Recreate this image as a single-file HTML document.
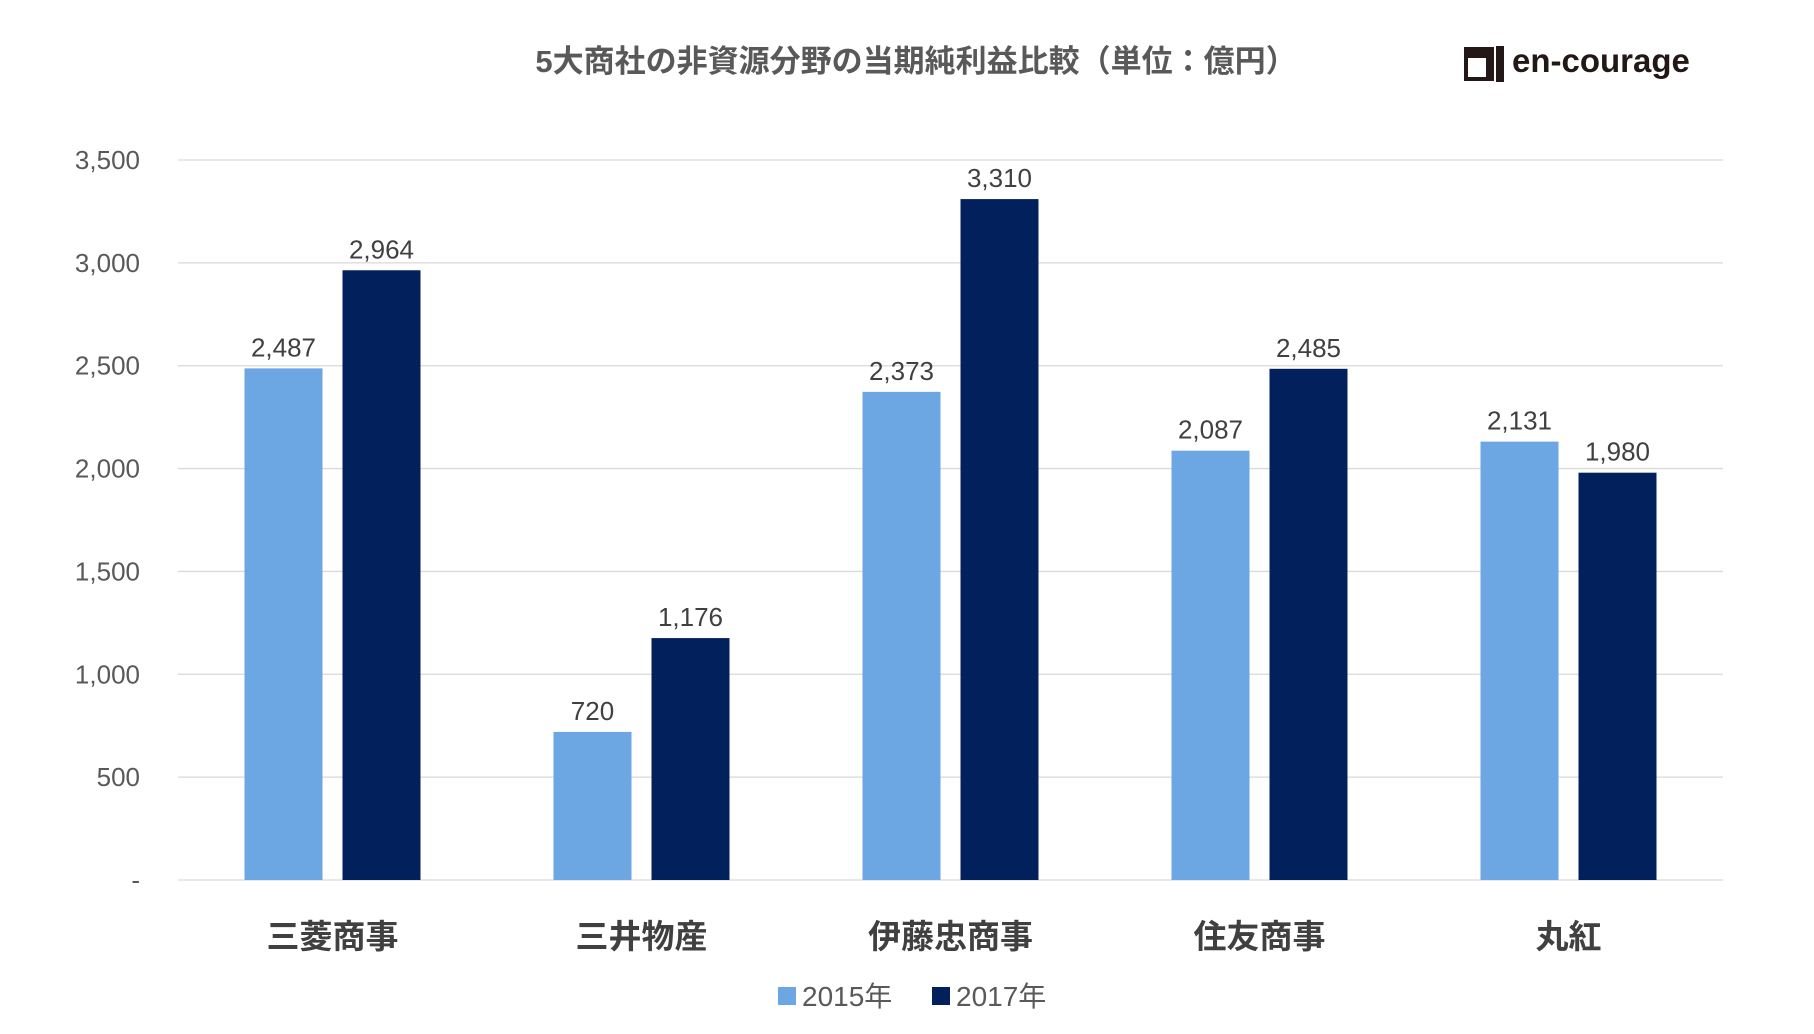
<!DOCTYPE html>
<html><head><meta charset="utf-8">
<style>
body{margin:0;background:#fff;width:1814px;height:1029px;overflow:hidden;font-family:"Liberation Sans","Noto Sans CJK JP",sans-serif;}
</style></head>
<body>
<svg id="chart" width="1814" height="1029" xmlns="http://www.w3.org/2000/svg" font-family="Liberation Sans, Noto Sans CJK JP, sans-serif">
<text x="916" y="72" text-anchor="middle" font-size="31" font-weight="bold" fill="#595959">5大商社の非資源分野の当期純利益比較（単位：億円）</text>
<g>
<rect x="1464" y="47" width="30" height="34" fill="#231815"/>
<rect x="1468" y="58" width="18" height="19" fill="#fff"/>
<rect x="1496" y="46" width="8" height="36" fill="#231815"/>
<text x="1512" y="72" font-size="33" font-weight="bold" fill="#231815">en-courage</text>
</g>
<g id="grid"></g><g id="bars"></g><g id="labels"></g>
<g>
<rect x="778" y="987" width="18" height="18" fill="#6CA6E3"/>
<text x="802" y="1006" font-size="28" fill="#595959">2015年</text>
<rect x="932" y="987" width="18" height="18" fill="#02215C"/>
<text x="956" y="1006" font-size="28" fill="#595959">2017年</text>
</g>
</svg>
<script>
const categories=["三菱商事","三井物産","伊藤忠商事","住友商事","丸紅"];
const values2015=[2487,720,2373,2087,2131];
const values2017=[2964,1176,3310,2485,1980];
const tickValues=[0,500,1000,1500,2000,2500,3000,3500];
const tickLabels=["-","500","1,000","1,500","2,000","2,500","3,000","3,500"];
const NS="http://www.w3.org/2000/svg";
const x0=178,x1=1723,y0=880,yTop=160,maxV=3500;
const yS=v=>y0-(v/maxV)*(y0-yTop);
const band=(x1-x0)/categories.length;
const fmt=v=>v.toLocaleString("en-US");
function el(t,a,p){const e=document.createElementNS(NS,t);for(const k in a)e.setAttribute(k,a[k]);document.getElementById(p).appendChild(e);return e;}
tickValues.forEach((v,i)=>{
 const l=el("line",{x1:x0,x2:x1,y1:yS(v),y2:yS(v),stroke:"#D9D9D9","stroke-width":1.3},"grid");
 
 
 const t=el("text",{x:140,y:yS(v)+9,"text-anchor":"end","font-size":26,fill:"#595959"},"grid");
 t.textContent=tickLabels[i];
 
 
});
const bw=78,gap=20;
categories.forEach((c,i)=>{
 const cx=x0+band*(i+0.5);
 [[values2015[i],"#6CA6E3",cx-gap/2-bw],[values2017[i],"#02215C",cx+gap/2]].forEach(([v,col,bx],j)=>{
  const r=el("rect",{x:bx,y:yS(v),width:bw,height:y0-yS(v),fill:col},"bars");
  
  
  const t=el("text",{x:bx+bw/2,y:yS(v)-12,"text-anchor":"middle","font-size":26,fill:"#404040"},"labels");
  t.textContent=fmt(v);
  
  
 });
 const ct=el("text",{x:cx,y:948,"text-anchor":"middle","font-size":33,"font-weight":"bold",fill:"#404040"},"labels");
 ct.textContent=c;
 
 
});
</script>
</body></html>
